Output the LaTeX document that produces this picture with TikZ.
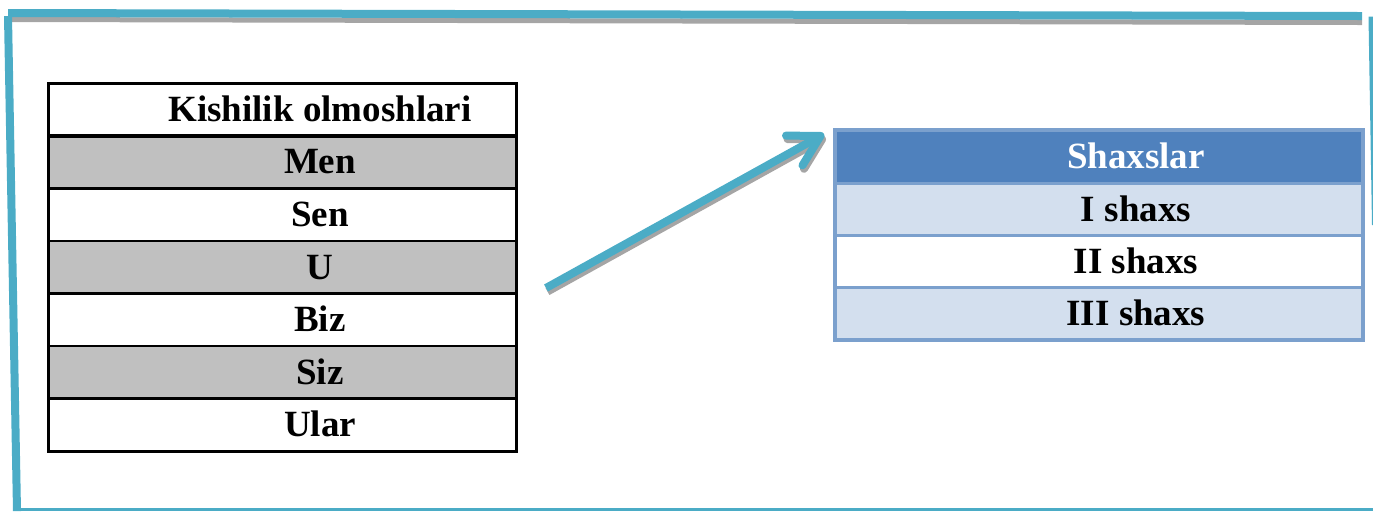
\documentclass[tikz,border=0pt]{standalone}
\usepackage{fontspec}
\setmainfont{Liberation Serif}
\usepackage{tikz}
\usetikzlibrary{arrows.meta}
\definecolor{framebl}{HTML}{4BACC6}
\definecolor{shadowgr}{HTML}{A5A5A5}
\definecolor{headbl}{HTML}{4F81BD}
\definecolor{rowbl}{HTML}{D3DFEE}
\definecolor{edgebl}{HTML}{7BA0CD}
\definecolor{cellgr}{HTML}{C0C0C0}

\begin{document}
\begin{tikzpicture}[x=0.5pt, y=-0.5pt,
		lbl/.style={anchor=base, inner sep=0pt, font=\fontsize{18.5}{20}\selectfont\bfseries},
		bigarrow/.style={line width=4pt, -{Straight Barb[round, length=15pt, width=17pt]}}]
				\useasboundingbox (0,0) rectangle (1373,511);
				% frame
				\fill[shadowgr] (12,17) -- (1362,20) -- (1362,25) -- (12,22) -- cycle;
				\fill[framebl] (8,9) -- (1362,12) -- (1362,20) -- (8,17) -- cycle;
				\fill[framebl] (4,16) -- (12,16) -- (21,511) -- (13,511) -- cycle;
				\fill[framebl] (17,507.5) rectangle (1373,511);
				\fill[framebl] (1368.5,16.5) -- (1373,16.5) -- (1373,225) -- (1372,225) -- cycle;
				% left table
				\foreach \t [count=\i from 0] in {Kishilik olmoshlari,Men,Sen,U,Biz,Siz,Ular} {
					\ifodd\i \fill[cellgr] (48,{83+\i*52.6}) rectangle ++(468,52.6); \fi
					\node[lbl] (k\i) at (320,{83+\i*52.6+38.3}) {\t};
				}
				\foreach \i in {2,...,6}
					\draw[line width=1.3pt] (48,{83+\i*52.6}) -- (516,{83+\i*52.6});
				\draw[line width=2pt] (48,135.6) -- (516,135.6);
				\draw[line width=1.5pt] (48,83) rectangle (516,451.2);
				% right table
				\fill[headbl] (835,130) rectangle (1363,183);
				\fill[rowbl] (835,183) rectangle (1363,235);
				\fill[rowbl] (835,287) rectangle (1363,340);
				\foreach \y in {183,235,287}
					\draw[edgebl, line width=1.5pt] (835,\y) -- (1363,\y);
				\draw[edgebl, line width=2pt] (835,130) rectangle (1363,340);
				\node[lbl, white] (sh0) at (1136,168) {Shaxslar};
				\node[lbl] (sh1) at (1136,221) {I shaxs};
				\node[lbl] (sh2) at (1136,273) {II shaxs};
				\node[lbl] (sh3) at (1136,325.5) {III shaxs};
				% arrow
				\coordinate (arrS) at (546,288);
				\coordinate (arrE) at (824,134);
				\draw[bigarrow, shadowgr] ([shift={(1.5,3.5)}]arrS) -- ([shift={(1.5,3.5)}]arrE);
				\draw[bigarrow, framebl] (arrS) -- (arrE);
			\end{tikzpicture}
\end{document}
